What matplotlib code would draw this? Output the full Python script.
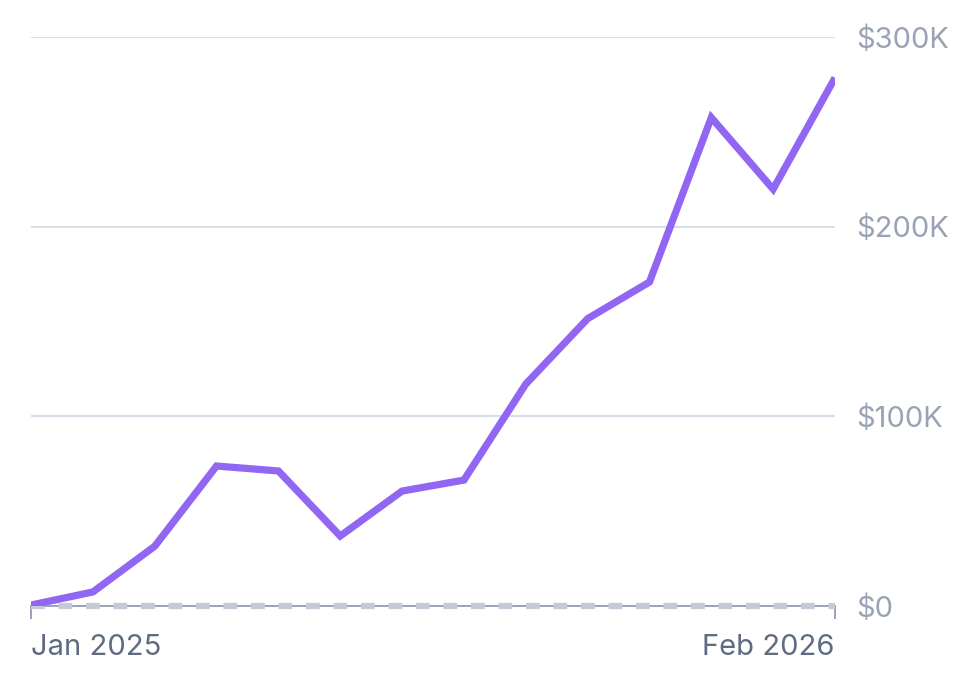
import matplotlib
matplotlib.use("Agg")
import matplotlib.pyplot as plt
import numpy as np

months = ["Jan 2025", "Feb 2025", "Mar 2025", "Apr 2025", "May 2025", "Jun 2025", "Jul 2025",
          "Aug 2025", "Sep 2025", "Oct 2025", "Nov 2025", "Dec 2025", "Jan 2026", "Feb 2026"]
values = [500, 7400, 31500, 73800, 71200, 36900, 60600, 66400, 117000, 151500, 170800, 257500, 219800, 278500]
y_ticks = [0, 100000, 200000, 300000]
y_tick_labels = ["$0", "$100K", "$200K", "$300K"]
x_tick_labels = ["Jan 2025", "Feb 2026"]

plt.rcParams['font.family'] = ['Inter', 'DejaVu Sans']

fig = plt.figure(figsize=(9.76, 6.96), dpi=100)
ax = fig.add_axes([31/976, 1-606/696, (835-31)/976, (606-37)/696])

x = np.arange(len(months))
ax.set_xlim(0, len(months)-1)
ax.set_ylim(0, 300000)

for t in y_ticks[1:]:
    ax.axhline(t, color="#d8dde7", lw=1.5, zorder=1)

ax.axhline(0, color="#9aa3b5", lw=1.4, zorder=2, clip_on=False)
ax.axhline(0, color="#c5cad6", lw=4.5, dashes=(2.2, 2.2), zorder=2.5, clip_on=False)

ax.plot(x, values, color="#9166f2", lw=5.2, solid_joinstyle="miter", solid_capstyle="butt", zorder=3)

for s in ax.spines.values():
    s.set_visible(False)

ax.yaxis.tick_right()
ax.set_yticks(y_ticks)
ax.set_yticklabels(y_tick_labels)
ax.tick_params(axis="y", length=0, pad=15, labelsize=21, labelcolor="#9aa3b5")

ax.set_xticks([0, len(months)-1])
ax.set_xticklabels(x_tick_labels)
ax.tick_params(axis="x", length=9, width=1.4, color="#9aa3b5", pad=11, labelsize=21, labelcolor="#5f6b80")
xl = ax.get_xticklabels()
xl[0].set_horizontalalignment("left")
xl[1].set_horizontalalignment("right")

fig.savefig("out.png", dpi=100, facecolor="white")
